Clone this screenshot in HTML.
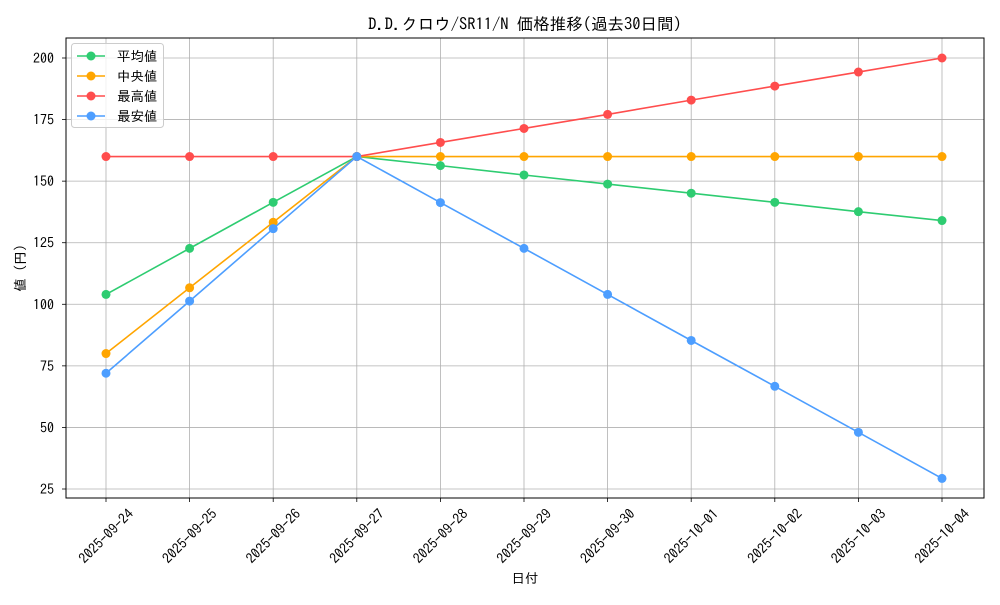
<!DOCTYPE html>
<html><head><meta charset="utf-8"><style>
body{margin:0;background:#fff}
text{font-family:"IPAGothic","Liberation Sans",sans-serif;fill:#000}
</style></head><body>
<svg id="chart" width="1000" height="600" xmlns="http://www.w3.org/2000/svg">
<text x="525" y="30" font-size="16.5" text-anchor="middle">D.D.クロウ/SR11/N 価格推移(過去30日間)</text>
<g id="grid"></g><g id="axes"></g><g id="series"></g>
<text x="525" y="583" font-size="13.5" text-anchor="middle">日付</text>
<text transform="translate(25,268) rotate(-90)" font-size="13.5" text-anchor="middle">値 (円)</text>
<g id="legend"></g>
</svg>
<script>
const categories=["2025-09-24","2025-09-25","2025-09-26","2025-09-27","2025-09-28","2025-09-29","2025-09-30","2025-10-01","2025-10-02","2025-10-03","2025-10-04"];
const meanValues=[104,122.7,141.4,160,156.3,152.5,148.8,145.1,141.4,137.6,134];
const medianValues=[80,106.7,133.3,160,160,160,160,160,160,160,160];
const maxValues=[160,160,160,160,165.7,171.4,177.1,182.9,188.6,194.3,200];
const minValues=[72,101.3,130.7,160,141.3,122.7,104,85.3,66.7,48,29.3];
const yTicks=[25,50,75,100,125,150,175,200];
const seriesNames=["平均値","中央値","最高値","最安値"];
const NS="http://www.w3.org/2000/svg";
const L=66,R=984,T=38,B=498;
const x=i=>106+i*(942-106)/(categories.length-1);
const y=v=>58+(200-v)*(489-58)/175;
function mk(tag,at,parent){const e=document.createElementNS(NS,tag);for(const k in at)e.setAttribute(k,at[k]);parent.appendChild(e);return e;}
const grid=document.getElementById('grid'),axes=document.getElementById('axes'),ser=document.getElementById('series'),leg=document.getElementById('legend');
categories.forEach((c,i)=>{
 const g=mk('line',{x1:x(i),x2:x(i),y1:T,y2:B,stroke:'#b0b0b0','stroke-width':0.8},grid);
 
 
 const t=mk('line',{x1:x(i),x2:x(i),y1:B,y2:B+4,stroke:'#000','stroke-width':0.8},axes);
 
 
 const tx=mk('text',{transform:`translate(${x(i)},${B+38}) rotate(-45)`,'font-size':14,'text-anchor':'middle',dy:5},axes);
 tx.textContent=c;
 
 
});
yTicks.forEach(v=>{
 const g=mk('line',{x1:L,x2:R,y1:y(v),y2:y(v),stroke:'#b0b0b0','stroke-width':0.8},grid);
 
 
 const t=mk('line',{x1:L-4,x2:L,y1:y(v),y2:y(v),stroke:'#000','stroke-width':0.8},axes);
 
 
 const tx=mk('text',{x:L-12,y:y(v)+5,'font-size':14,'text-anchor':'end'},axes);
 tx.textContent=v;
 
 
});
const fr=mk('rect',{x:L,y:T,width:R-L,height:B-T,fill:'none',stroke:'#000','stroke-width':1},axes);


const all=[meanValues,medianValues,maxValues,minValues];
const colors=['#2ecc71','#ffa500','#ff4d4d','#4d9eff'];
const keys=['mean','median','max','min'];
all.forEach((vals,s)=>{
 const p=mk('polyline',{points:vals.map((v,i)=>x(i)+','+y(v)).join(' '),fill:'none',stroke:colors[s],'stroke-width':1.6},ser);
 
 
 vals.forEach((v,i)=>{
  const c=mk('circle',{cx:x(i),cy:y(v),r:4.5,fill:colors[s]},ser);
  
  
 });
});
const lb=mk('rect',{x:71.5,y:43.5,width:92,height:84,rx:3,fill:'#fff','fill-opacity':0.8,stroke:'#ccc'},leg);


seriesNames.forEach((n,s)=>{
 const yy=56+s*20;
 const g=mk('g',{},leg);
 
 
 mk('line',{x1:77,x2:105,y1:yy,y2:yy,stroke:colors[s],'stroke-width':1.6},g);
 mk('circle',{cx:91,cy:yy,r:4.5,fill:colors[s]},g);
 const t=mk('text',{x:117,y:yy+5,'font-size':13.5},g);
 t.textContent=n;
});
</script>
</body></html>
